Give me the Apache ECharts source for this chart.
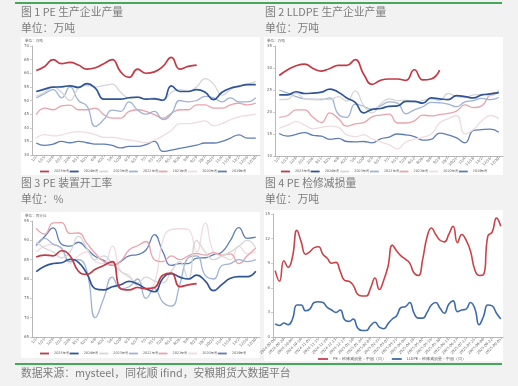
<!DOCTYPE html>
<html><head><meta charset="utf-8">
<script src="https://cdn.jsdelivr.net/npm/echarts@6/dist/echarts.min.js"></script>
<style>html,body{margin:0;padding:0;background:#f2f2f2}#c{width:518px;height:386px}</style>
</head><body><div id="c"></div>
<script>
// ---------- tick labels ----------
const weekLabels = ["1/1","1/15","1/29","2/12","2/26","3/11","3/25","4/8","4/22","5/6","5/20","6/3","6/17","7/1","7/15","7/29","8/12","8/26","9/9","9/23","10/7","10/21","11/4","11/18","12/2","12/16","12/30"];
const lossDates = ["2024-09-06","2024-09-13","2024-09-20","2024-09-27","2024-10-04","2024-10-11","2024-10-18","2024-10-25","2024-11-01","2024-11-08","2024-11-15","2024-11-22","2024-11-29","2024-12-06","2024-12-13","2024-12-20","2024-12-27","2025-01-03","2025-01-10","2025-01-17","2025-01-24","2025-01-31","2025-02-07","2025-02-14","2025-02-21","2025-02-28","2025-03-07","2025-03-14","2025-03-21","2025-03-28","2025-04-04","2025-04-11","2025-04-18","2025-04-25","2025-05-02","2025-05-09","2025-05-16","2025-05-23","2025-05-30","2025-06-06","2025-06-13","2025-06-20","2025-06-27","2025-07-04","2025-07-11","2025-07-18","2025-07-25","2025-08-01","2025-08-08","2025-08-15","2025-08-22","2025-08-29","2025-09-05"];
const yearNames = ["2025年度","2024年度","2023年度","2022年度","2021年度","2020年度","2019年度"];

// ---------- 图1 PE 生产企业产量 (万吨) ----------
const pe2025 = [61,62.5,65,63.5,64,63,61.5,62,63.5,65,60.5,58.5,61.5,60,60.5,62.5,65.8,61.5,62.5,63];
const pe2024 = [53.3,54.2,54.9,55,55.4,54.8,56.2,54.5,50.5,50.5,50.5,51,51.2,50.5,50.6,50.1,55.4,53.3,53.3,54,53,50.3,53,54.5,55.2,55.8,55.8];
const pe2023 = [51.5,53,55,53,50,54.5,55.5,55,55.5,56,53,51,51.5,50.5,51,50,53,54,53.5,55,58,56,52,54,55.5,56,57];
const pe2022 = [50.9,52.5,54,51,55,50,48,40.5,43,46.5,46,49.5,46.5,45,46,43,45,50,49.5,50,51.5,51,49.5,51,49.5,49.5,51];
const pe2021 = [44.8,47.2,46.6,48,48.3,46.6,46.6,47.2,44.8,43.5,43.5,46,46.6,46,44.8,43.5,45.3,46.6,46.6,48.4,48.4,47.2,47.2,48.4,49,48.4,49];
const pe2020 = [36.2,37.5,37,37.4,38.2,38.6,38.2,37.5,36.5,36.5,36,35.5,35,34.5,35.5,37,39,41.5,41.5,42,42.5,40.8,41.5,43,44,44.5,45];
const pe2019 = [34.4,33.5,34,35,34.5,35,34.5,34,34,33.5,32.6,33.2,33.2,33.8,35,31.3,31.8,32.4,33,33.6,34.4,34.4,35,36.2,37.4,36.2,36.2];

// ---------- 图2 LLDPE 生产企业产量 (万吨) ----------
const ll2025 = [28.3,29.6,30.5,30.9,29.9,29.3,29.9,30.6,30.6,31.9,28.6,26.3,27.2,27.5,27.5,27.2,29.6,27.3,27.5,29.5];
const ll2024 = [23.9,23.9,24.6,24.2,24.3,24.5,25.2,24.5,23.2,22.2,19.8,20.6,20.8,21.3,21.4,22.4,22.4,22.0,23.2,23.0,22.8,23.7,23.5,23.2,23.9,24.1,24.4];
const ll2023 = [22.8,22.9,24.3,23.0,22.8,23.0,22.8,23.5,22.5,24.8,21.5,19.8,21.8,23.0,22.6,22.7,22.3,22.6,23.0,22.6,24.2,23.5,23.3,23.9,24.0,23.7,25.0];
const ll2022 = [25.0,24.3,23.5,23.0,22.9,22.8,23.2,19.5,18.8,21.8,21.3,20.6,21.4,22.3,22.0,19.6,20.5,21.2,22.2,22.1,21.8,21.2,22.3,22.6,23.1,22.8,23.3];
const ll2021 = [18.8,19.2,20.5,20.5,18.8,17.6,19.8,18.5,16.8,17.3,17.6,18.9,19.3,19.5,17.5,17.5,18.0,19.3,19.1,19.4,19.7,20.2,21.6,21.0,21.4,24.0,24.5];
const ll2020 = [16.3,17.0,17.8,17.0,16.2,16.5,16.8,16.5,14.8,14.4,14.8,13.9,13.2,12.6,11.6,13.2,13.8,14.3,15.0,17.5,18.5,19.2,15.0,16.0,18.0,19.2,18.5];
const ll2019 = [15.1,14.5,14.9,15.3,14.7,14.5,13.8,14.0,13.3,13.2,13.3,13.0,13.9,14.3,15.0,14.8,14.4,13.6,13.8,15.2,14.8,14.1,13.0,15.8,16.0,16.1,15.4];

// ---------- 图3 PE 装置开工率 (%) ----------
const op2025 = [85.7,86.2,86.0,87.3,86.0,82.0,81.2,82.5,83.5,84.5,77.5,77.2,77.8,77.5,77.8,81.0,81.5,78.0,78.5,78.8];
const op2024 = [81.9,83.3,84.0,84.2,85.1,84.3,81.4,77.5,77.2,78.0,78.5,79.4,78.7,77.5,76.7,80.2,81.4,80.5,80.0,81.0,79.5,77.0,78.6,80.2,80.6,80.6,82.0];
const op2023 = [89.5,88,87,85.5,87,91,88,85,86,84,82,80.5,79,80.5,79.5,79,82,84.5,80,90,87,85,86,87,88.5,90,88];
const op2022 = [88.5,90.5,89,88,84.5,85,82,70,75,80.5,77.5,78,80,75,77.5,74,73,78.5,85.5,86,81,80,83.5,84,85,84.5,85];
const op2021 = [93.1,91.6,94.5,94.6,91.8,91.9,89.2,86.6,84.5,83.6,84.6,87.5,88.6,89.7,85,84.5,86,85,86,86.6,86.2,86.8,86.2,86.5,84,86,88];
const op2020 = [87,88.5,89,87.5,84,86,87,84.5,84,88.5,82,81,78,77.5,79,90,92.8,93,92.8,87,94.5,87,86,85,88.5,86.5,87];
const op2019 = [88.8,91,93.2,89,88.5,89.5,87.8,85.8,84.8,83.5,84.5,86,86.3,87.5,91.5,87,83.5,84,84,85.4,85.5,86.3,87,90,93.3,90.5,90.8];

// ---------- 图4 PE 检修减损量 (万吨) ----------
const peLoss = [8.1,6.8,9.3,8.5,9.8,13.0,11.6,10.1,10.4,10.9,11.0,10.1,9.6,9.0,9.1,8.0,6.9,6.8,6.3,5.2,5.0,5.0,6.0,7.2,5.8,6.9,8.6,11.2,10.5,9.9,9.5,9.0,7.8,7.5,9.5,12.2,13.3,12.5,11.8,11.6,12.5,13.5,11.5,12.5,11.8,10.5,8.2,7.5,7.6,12.3,12.8,14.5,13.5];
const lldpeLoss = [1.6,1.4,1.7,1.5,2.2,3.9,3.9,3.2,3.4,4.2,4.3,4.2,3.6,3.3,3.0,3.3,2.1,1.9,2.2,1.1,0.8,0.8,1.4,1.8,1.2,1.0,1.6,2.2,2.6,3.6,3.7,4.2,2.9,2.3,2.3,3.0,3.9,4.2,3.5,2.9,4.0,4.4,3.1,3.3,3.4,4.2,3.5,1.5,2.5,3.9,3.8,2.9,2.2];
const lossNames = ["PE：检修减损量：中国（周）","LLDPE：检修减损量：中国（周）"];

// ---------- styles ----------
const yearColors = ['#c13a45','#2f5597','#d6d6d6','#9fb3d3','#eaa3ac','#efdcdf','#5d7db6'];
const yearWidths = [1.7,1.7,1.3,1.3,1.3,1.3,1.3];
const tinyFont = 3.6;
const axisColor = '#9a9a9a';

function yearSeries(arrs, gi){
  return arrs.map((d,k)=>({
    name: yearNames[k], type:'line', xAxisIndex:gi, yAxisIndex:gi, data:d,
    smooth:true, symbol:'none', z: 10-k,
    lineStyle:{color:yearColors[k], width:yearWidths[k]}, itemStyle:{color:yearColors[k]}
  }));
}
function xCat(gi, data, interval){
  return {gridIndex:gi, type:'category', data:data, boundaryGap:true,
    axisLine:{lineStyle:{color:axisColor,width:0.7}},
    axisTick:{show:true,length:2,alignWithLabel:true,interval:interval,lineStyle:{color:axisColor,width:0.5}},
    axisLabel:{rotate:45, fontSize:tinyFont, color:'#666', margin:2, interval:interval, fontFamily:'DejaVu Sans'}};
}
function yVal(gi, min, max, interval){
  return {gridIndex:gi, type:'value', min:min, max:max, interval:interval,
    axisLine:{show:true,lineStyle:{color:axisColor,width:0.7}},
    axisTick:{show:true,length:2,lineStyle:{color:axisColor,width:0.5}},
    splitLine:{show:false},
    axisLabel:{fontSize:4, color:'#666', margin:3, fontFamily:'DejaVu Sans'}};
}
function yearLegend(left, top){
  return {data:yearNames, left:left, top:top, orient:'horizontal', itemWidth:9, itemHeight:1.8, itemGap:1,
    icon:'rect', textStyle:{fontSize:3.4, color:'#555', fontFamily:'DejaVu Sans'}, padding:0};
}
const titleStyle = {fontSize:10.8, fill:'#7c7c7c', fontFamily:'"Noto Sans CJK SC", sans-serif'};
function txt(x,y,s,style){ return {type:'text', left:x, top:y, z:50, style:Object.assign({text:s}, style)}; }
function rect(x,y,w,h,fill){ return {type:'rect', shape:{x:x,y:y,width:w,height:h}, style:{fill:fill}, z:-1, silent:true}; }
const unitStyle = {fontSize:3.6, fill:'#666', fontFamily:'"Noto Sans CJK SC", sans-serif'};

const chart = echarts.init(document.getElementById('c'), null, {renderer:'canvas'});
chart.setOption({
  backgroundColor:'#f2f2f2',
  animation:false,
  graphic:[
    rect(15,2,487,2,'#45a85a'),
    rect(15,363,487,2,'#45a85a'),
    rect(21,37,239,138,'#ffffff'),
    rect(264,37,239,138,'#ffffff'),
    rect(21,212,239,146,'#ffffff'),
    rect(264,210,239,151,'#ffffff'),
    txt(21,7,'图 1 PE 生产企业产量',titleStyle),
    txt(21,23,'单位：万吨',titleStyle),
    txt(265,7,'图 2 LLDPE 生产企业产量',titleStyle),
    txt(265,23,'单位：万吨',titleStyle),
    txt(21,178,'图 3 PE 装置开工率',titleStyle),
    txt(21,194,'单位：%',titleStyle),
    txt(265,178,'图 4 PE 检修减损量',titleStyle),
    txt(265,194,'单位：万吨',titleStyle),
    txt(25,39,'单位：万吨',unitStyle),
    txt(267,39,'单位：万吨',unitStyle),
    txt(25,214,'单位：百分比',unitStyle),
    txt(21,368,'数据来源：mysteel，同花顺 ifind，安粮期货大数据平台',titleStyle)
  ],
  legend:[
    yearLegend(40,170),
    yearLegend(281,170),
    yearLegend(40,352),
    {data:lossNames, left:318, top:357, itemWidth:10, itemHeight:1.8, itemGap:6, icon:'rect', padding:0,
      textStyle:{fontSize:tinyFont, color:'#555'}}
  ],
  grid:[
    {left:32, top:46, width:228, height:109},
    {left:275, top:46, width:228, height:110},
    {left:32, top:221, width:228, height:116},
    {left:273, top:214, width:230, height:123}
  ],
  xAxis:[ xCat(0,weekLabels,0), xCat(1,weekLabels,0), xCat(2,weekLabels,0), xCat(3,lossDates,1) ],
  yAxis:[ yVal(0,30,70,5), yVal(1,10,35,5), yVal(2,65,95,5), yVal(3,0,15,3) ],
  series:[].concat(
    yearSeries([pe2025,pe2024,pe2023,pe2022,pe2021,pe2020,pe2019],0),
    yearSeries([ll2025,ll2024,ll2023,ll2022,ll2021,ll2020,ll2019],1),
    yearSeries([op2025,op2024,op2023,op2022,op2021,op2020,op2019],2),
    [
      {name:lossNames[0], type:'line', xAxisIndex:3, yAxisIndex:3, data:peLoss, smooth:true, symbol:'none',
        lineStyle:{color:'#c8434a',width:1.6}, itemStyle:{color:'#c8434a'}},
      {name:lossNames[1], type:'line', xAxisIndex:3, yAxisIndex:3, data:lldpeLoss, smooth:true, symbol:'none',
        lineStyle:{color:'#3f6ba8',width:1.6}, itemStyle:{color:'#3f6ba8'}}
    ]
  )
});
</script></body></html>
